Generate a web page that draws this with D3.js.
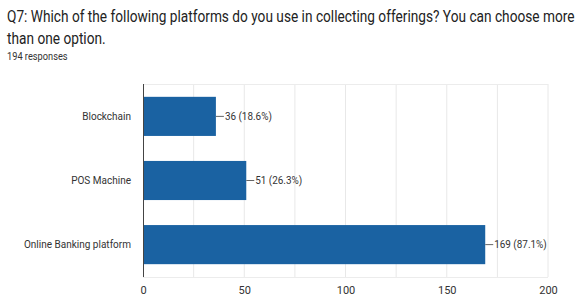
<!DOCTYPE html>
<html>
<head>
<meta charset="utf-8">
<script src="https://cdn.jsdelivr.net/npm/d3@7"></script>
<style>
  body { margin: 0; background: #fff; }
  svg { font-family: Roboto, "Liberation Sans", Arial, sans-serif; }
</style>
</head>
<body>
<div id="chart"></div>
<script>
const categories = ["Blockchain", "POS Machine", "Online Banking platform"];
const counts = [36, 51, 169];
const percents = ["18.6%", "26.3%", "87.1%"];
const xTicks = [0, 50, 100, 150, 200];
const gridTicks = [25, 50, 75, 100, 125, 150, 175, 200];

const layout = {
    width: 580,
    height: 300,
    marginLeft: 143,
    marginRight: 32,
    marginTop: 84,
    marginBottom: 23
};

// squeeze text horizontally, the screenshot uses a condensed face
function condense(sel, factor) {
    sel.each(function() {
        let w = this.getComputedTextLength();
        d3.select(this).attr("textLength", w * factor).attr("lengthAdjust", "spacingAndGlyphs");
    });
}

let svg = d3.select("#chart").append("svg")
    .attr("width", layout.width)
    .attr("height", layout.height);

// title, scaled as a group so its box stays inside the page
let titleG = svg.append("g");
let t1 = titleG.append("text")
    .attr("x", 0).attr("y", 22)
    .attr("font-size", 17).attr("fill", "#222")
    .text("Q7:  Which of the following platforms do you use in collecting offerings? You can choose more");
let titleFactor = 568 / t1.node().getComputedTextLength();
titleG.append("text")
    .attr("x", 0).attr("y", 44)
    .attr("font-size", 17).attr("fill", "#222")
    .text("than one option.");
titleG.attr("transform", `translate(7,0) scale(${titleFactor},1)`);

let t3 = svg.append("text")
    .attr("x", 7).attr("y", 60)
    .attr("font-size", 10.5).attr("fill", "#333")
    .text("194 responses");
condense(t3, 0.88);

const plotBottom = layout.height - layout.marginBottom;

let xScale = d3.scaleLinear()
    .domain([0, 200])
    .range([layout.marginLeft, layout.width - layout.marginRight]);

let yScale = d3.scaleBand()
    .domain(categories)
    .range([layout.marginTop, plotBottom])
    .paddingInner(0.39)
    .paddingOuter(0.2);

// grid
svg.append("g").selectAll("line").data(gridTicks).join("line")
    .attr("x1", d => xScale(d)).attr("x2", d => xScale(d))
    .attr("y1", layout.marginTop).attr("y2", plotBottom)
    .attr("stroke", "#e8e8e8").attr("stroke-width", 1);
svg.append("line")
    .attr("x1", xScale(0)).attr("x2", xScale(200))
    .attr("y1", layout.marginTop + 0.5).attr("y2", layout.marginTop + 0.5)
    .attr("stroke", "#ececec");
svg.append("line")
    .attr("x1", xScale(0)).attr("x2", xScale(200))
    .attr("y1", plotBottom + 0.5).attr("y2", plotBottom + 0.5)
    .attr("stroke", "#ececec");

// bars
svg.append("g").selectAll("rect").data(categories).join("rect")
    .attr("x", xScale(0))
    .attr("y", d => yScale(d))
    .attr("width", (d, i) => xScale(counts[i]) - xScale(0))
    .attr("height", yScale.bandwidth())
    .attr("fill", "#1a62a2");

// value labels with leader
let labels = svg.append("g");
categories.forEach((c, i) => {
    let cy = yScale(c) + yScale.bandwidth() / 2;
    labels.append("line")
        .attr("x1", xScale(counts[i])).attr("x2", xScale(counts[i]) + 8)
        .attr("y1", cy).attr("y2", cy)
        .attr("stroke", "#666");
    labels.append("text")
        .attr("x", xScale(counts[i]) + 9).attr("y", cy)
        .attr("dy", "0.35em")
        .attr("font-size", 11).attr("fill", "#333")
        .text(counts[i] + " (" + percents[i] + ")");
});
condense(labels.selectAll("text"), 0.9);

// y axis
let yAxis = svg.append("g")
    .attr("transform", `translate(${layout.marginLeft},0)`)
    .call(d3.axisLeft(yScale).tickSize(0).tickPadding(12).tickSizeOuter(0));
yAxis.select(".domain").attr("stroke", "#444").attr("d", `M0.5,${layout.marginTop}V${plotBottom}`);
yAxis.selectAll("text").attr("font-size", 11).attr("fill", "#333")
    .attr("font-family", "Roboto, sans-serif");
condense(yAxis.selectAll("text"), 0.91);

// x axis
let xAxis = svg.append("g")
    .attr("transform", `translate(0,${plotBottom})`)
    .call(d3.axisBottom(xScale).tickValues(xTicks).tickSize(0).tickPadding(9));
xAxis.select(".domain").remove();
xAxis.selectAll("text").attr("font-size", 11).attr("fill", "#333")
    .attr("font-family", "Roboto, sans-serif");
</script>
</body>
</html>
